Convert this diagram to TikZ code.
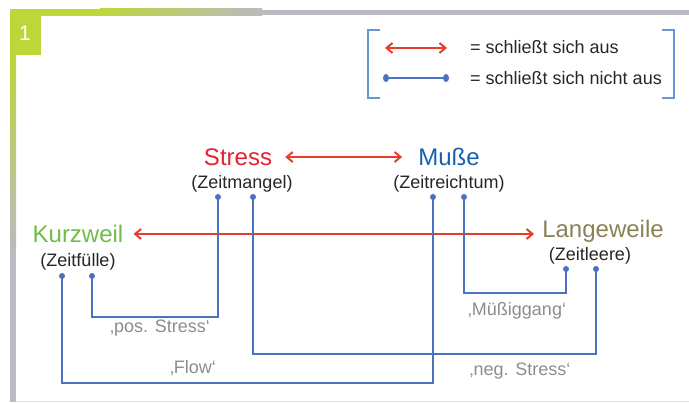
\documentclass[tikz,border=0pt]{standalone}
\usepackage{fontspec}
\setmainfont{Liberation Sans}
\usetikzlibrary{arrows.meta,positioning}
\definecolor{lime}{RGB}{190,214,58}
\definecolor{barg}{RGB}{186,186,192}
\definecolor{exred}{RGB}{232,60,45}
\definecolor{linkblue}{RGB}{74,114,192}
\definecolor{brkblue}{RGB}{104,150,210}
\definecolor{stressred}{RGB}{232,32,48}
\definecolor{mueblue}{RGB}{24,96,176}
\definecolor{kwgreen}{RGB}{108,190,70}
\definecolor{lwolive}{RGB}{138,130,86}
\definecolor{lblgray}{RGB}{140,140,140}
\begin{document}
\begin{tikzpicture}[x=1pt,y=-1pt,every node/.style={inner sep=0pt},
  title/.style={font=\fontsize{24}{26}\selectfont},
  sub/.style={font=\fontsize{18}{20}\selectfont,text=black!85},
  lbl/.style={font=\fontsize{18}{20}\selectfont,text=lblgray},
  legtext/.style={font=\fontsize{18}{20}\selectfont,text=black!85,anchor=west},
  excl/.style={exred,line width=2pt,{Straight Barb[length=6pt,width=10pt]}-{Straight Barb[length=6pt,width=10pt]}},
  link/.style={linkblue,line width=2.2pt},
  brk/.style={brkblue,line width=2pt}]
\useasboundingbox (0,0) rectangle (689,403);
% frame
\fill[lime] (10,9) rectangle (41,55);
\fill[lime] (41,9) rectangle (100,16);
\shade[left color=lime,right color=barg] (100,9) rectangle (262,16);
\fill[barg] (261,10) rectangle (689,15);
\shade[top color=lime,bottom color=barg] (10,55) rectangle (16,250);
\fill[barg] (10,249) rectangle (16,402);
\draw[black!12,line width=0.8pt] (16,401) -- (689,401);
\node[text=white,font=\fontsize{21}{23}\selectfont] (num) at (25,33) {1};
% legend
\draw[brk] (380,30) -- (368,30) -- (368,98) -- (380,98);
\draw[brk] (662,30) -- (674,30) -- (674,98) -- (662,98);
\coordinate (la1) at (385,48);
\coordinate (la2) at (447,48);
\coordinate (lb1) at (386,78);
\coordinate (lb2) at (446,78);
\draw[excl] (la1) -- (la2);
\draw[link] (lb1) -- (lb2);
\fill[linkblue] (lb1) ellipse (3 and 4);
\fill[linkblue] (lb2) ellipse (3 and 4);
\node[legtext] (leg1) at (470,47) {= schließt sich aus};
\node[legtext] (leg2) at (470,78) {= schließt sich nicht aus};
% terms
\node[title,text=stressred] (stress) at (238,157) {Stress};
\node[sub] (zm) at (242,184) {(Zeitmangel)};
\node[title,text=mueblue] (musse) at (449,157) {Muße};
\node[sub] (zr) at (449,184) {(Zeitreichtum)};
\node[title,text=kwgreen] (kurz) at (78,234) {Kurzweil};
\node[sub] (zf) at (78,262) {(Zeitfülle)};
\node[title,text=lwolive] (lang) at (603,231) {Langeweile};
\node[sub] (zl) at (590,256) {(Zeitleere)};
\draw[excl,shorten <=13pt,shorten >=16pt] (stress) -- (musse);
\draw[excl,shorten <=10pt,shorten >=8pt] (kurz.east) -- (kurz.east -| lang.west);
% links
\coordinate (zm-a) at (218,197);
\coordinate (zm-b) at (253,197);
\coordinate (zr-a) at (433,197);
\coordinate (zr-b) at (464,197);
\coordinate (zf-a) at (62,276);
\coordinate (zf-b) at (92,276);
\coordinate (zl-a) at (566,269);
\coordinate (zl-b) at (596,269);
\draw[link] (zf-b) -- ++(0,41) -| (zm-a);
\draw[link] (zf-a) -- ++(0,107) -| (zr-a);
\draw[link] (zm-b) -- ++(0,157) -| (zl-b);
\draw[link] (zr-b) -- ++(0,96) -| (zl-a);
\foreach \c in {zm-a,zm-b,zr-a,zr-b,zf-a,zf-b,zl-a,zl-b}
  \fill[linkblue] (\c) circle (3);
\node[lbl] (pos) at (160,328) {‚pos. Stress‘};
\node[lbl] (flow) at (193,368) {‚Flow‘};
\node[lbl] (neg) at (520,371) {‚neg. Stress‘};
\node[lbl] (mue) at (517,311) {‚Müßiggang‘};
\end{tikzpicture}
\end{document}
